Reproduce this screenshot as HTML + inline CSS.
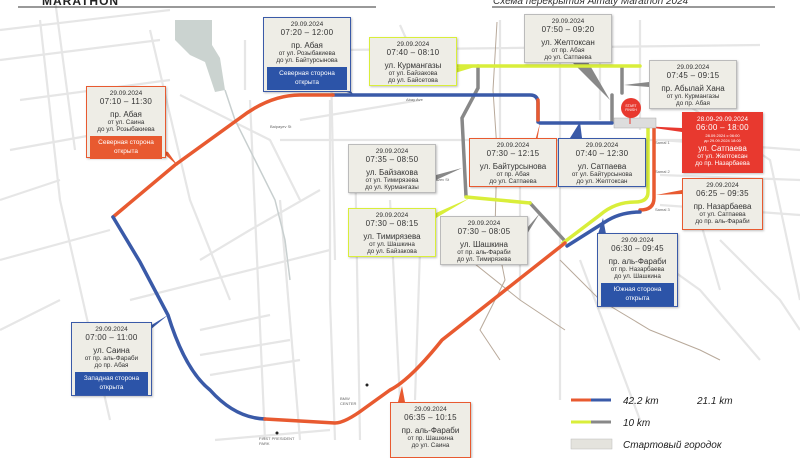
<!DOCTYPE html>
<html><head><meta charset="utf-8"><style>
body{margin:0;width:800px;height:450px;overflow:hidden;background:#fff;font-family:"Liberation Sans","DejaVu Sans",sans-serif;position:relative}
svg{position:absolute;left:0;top:0}
.b{position:absolute;background:#eeede6;border:1.5px solid #999;box-sizing:border-box;text-align:center;color:#333;line-height:1.15;padding-top:3px;box-shadow:1px 1px 2px rgba(0,0,0,.25)}
.b .d{font-size:6.5px}
.b .t{font-size:8px;letter-spacing:.3px}
.b .s{font-size:8px;margin-top:3px}
.b .u{font-size:6.3px}
.b .k{margin:3px 3px 0;color:#fff;font-size:6.5px;padding:3px 0;line-height:1.3}
.o{border-color:#e85a30}.bl{border-color:#3a5aa8}.y{border-color:#d9ee3a}.g{border-color:#bbb}
.r{background:#e8392f;border-color:#e8392f;color:#fff}
</style></head><body>
<svg width="800" height="450" viewBox="0 0 800 450">
<g stroke="#e6e6e6" stroke-width="2.2" fill="none">
<path d="M0 30 L170 10 M0 60 L160 40 M20 100 L170 80 M10 150 L120 130 M0 200 L60 180 M0 260 L110 230 M0 330 L60 300 M130 300 L330 250 M200 330 L270 315 M200 355 L290 340 M210 375 L300 360 M215 440 L330 430"/>
<path d="M40 20 L60 200 L110 420 M55 0 L75 150 M150 30 L190 200 L230 300 M245 40 L245 90 M180 95 L270 140 L300 200 M330 20 L335 260 M330 100 L330 200 L330 300 L335 440 M250 100 L265 440 M280 200 L300 440 M355 150 L360 440 M390 200 L400 400 M420 250 L415 400"/>
<path d="M320 190 L250 230 L200 260 M300 120 L420 100 M280 140 L700 140 M560 20 L560 400 M600 20 L600 120 M640 20 L640 130 M660 140 L800 150 M660 175 L800 180 M660 205 L800 215 M680 100 L770 160 L800 300 M700 220 L720 290 M720 240 L780 300 L800 330 M630 240 L700 290 L760 360 M340 50 L760 45 M400 25 L420 70 M500 20 L500 140 M520 150 L520 300 M580 260 L640 420"/>
</g>
<path d="M175 20 L212 20 L212 45 L220 58 L225 90 L215 92 L205 62 L190 55 L175 40Z" fill="#cbd3d0"/>
<path d="M225 90 L235 120 L255 160 L275 200 L285 240 L290 280" stroke="#c8cfcf" stroke-width="1.5" fill="none"/>
<g stroke="#b8a99a" stroke-width="1" fill="none"><path d="M497 22 L493 90 L497 150 L495 230 L505 280 L480 330 L500 360"/><path d="M470 260 L520 300 L565 330"/><path d="M560 260 L600 300 L650 330 L700 350 L720 360"/></g>
<line x1="18" y1="7" x2="376" y2="7" stroke="#333" stroke-width="1"/>
<line x1="492" y1="7" x2="775" y2="7" stroke="#333" stroke-width="1"/>
<text x="42" y="5" font-size="12" font-weight="bold" fill="#222" letter-spacing="1">MARATHON</text>
<text x="493" y="4" font-size="10" font-style="italic" fill="#333">Схема перекрытия Almaty Marathon 2024</text>
<g font-size="4" fill="#666"><text x="406" y="101">Abay Ave</text><text x="270" y="128">Baipayev St</text><text x="425" y="181">Timiryazev St</text><text x="655" y="144">Samal 1</text><text x="655" y="173">Samal 2</text><text x="655" y="211">Samal 3</text><text x="340" y="400">BMW</text><text x="340" y="405">CENTER</text><text x="259" y="440">FIRST PRESIDENT</text><text x="259" y="445">PARK</text></g>
<circle cx="367" cy="385" r="1.5" fill="#222"/><circle cx="277" cy="433" r="1.5" fill="#222"/>
<g fill="#e85a30"><path d="M160 150 L168 152 L178 166Z"/><path d="M523 185 L540 123 L530 186Z"/><path d="M398 402 L402 386 L405 402Z"/></g>
<g fill="#3a5aa8"><path d="M340 90 L350 90 L353 94Z"/><path d="M150 326 L168 315 L150 330Z"/><path d="M570 138 L580 122 L582 138Z"/><path d="M598 234 L603 218 L606 234Z"/></g>
<g fill="#d9ee3a"><path d="M455 68 L478 66 L455 73Z"/><path d="M436 213 L470 198 L436 218Z"/></g>
<g fill="#888"><path d="M572 62 L610 100 L588 62Z"/><path d="M649 82 L624 85 L649 87Z"/><path d="M436 175 L462 168 L436 180Z"/><path d="M527 228 L540 213 L527 234Z"/></g>
<path d="M682 128 L640 126 L682 132Z" fill="#e8392f"/><path d="M682 190 L656 195 L682 194Z" fill="#e85a30"/>
<g fill="none" stroke-linecap="round" stroke-width="3.5">
<path d="M478 66 L478 88 L462 118 L466 196" stroke="#888"/>
<path d="M622 68 L622 93" stroke="#888"/>
<path d="M612 95 L612 122" stroke="#888"/>
<path d="M530 203 L564 240" stroke="#888"/>
<path d="M443 66 L640 66" stroke="#d9ee3a"/>
<path d="M466 197 L530 203" stroke="#d9ee3a"/>
<path d="M648 128 L648 192 Q648 202 635 202 Q615 202 600 215 L563 243" stroke="#d9ee3a"/>
<path d="M654 128 L654 198 Q654 210 640 210" stroke="#e85a30"/>
<path d="M640 212 Q620 212 605 222 L567 246" stroke="#3a5aa8"/>
<path d="M333 95 L530 95 Q538 95 538 103 L538 122" stroke="#3a5aa8"/>
<path d="M538 100 L538 120" stroke="#e85a30"/>
<path d="M540 123 L612 123" stroke="#3a5aa8"/>
<path d="M333 95 L300 95 Q270 95 240 118 L175 165 L113 217" stroke="#e85a30"/>
<path d="M113 217 L140 262 L168 315 Q185 370 210 390 Q235 418 265 419" stroke="#3a5aa8"/>
<path d="M265 419 L335 423 Q345 423 365 408 L390 390 Q410 380 442 340 L565 243" stroke="#e85a30"/>
</g>
<rect x="614" y="118" width="42" height="10" fill="#ddd" stroke="#aaa" stroke-width=".5"/>
<line x1="630" y1="112" x2="630" y2="124" stroke="#e8392f" stroke-width="1"/>
<circle cx="631" cy="108" r="10" fill="#e8392f"/>
<text x="631" y="107" font-size="3.5" fill="#fff" text-anchor="middle">START</text><text x="631" y="111" font-size="3.5" fill="#fff" text-anchor="middle">FINISH</text>
<line x1="571" y1="400" x2="591" y2="400" stroke="#e85a30" stroke-width="3"/><line x1="591" y1="400" x2="611" y2="400" stroke="#3a5aa8" stroke-width="3"/>
<line x1="571" y1="422" x2="591" y2="422" stroke="#d9ee3a" stroke-width="3"/><line x1="591" y1="422" x2="611" y2="422" stroke="#888" stroke-width="3"/>
<rect x="571" y="439" width="41" height="10" fill="#e4e3dd" stroke="#bbb" stroke-width=".5"/>
<g font-size="10" font-style="italic" fill="#222"><text x="623" y="404">42.2 km</text><text x="697" y="404">21.1 km</text><text x="623" y="426">10 km</text><text x="623" y="448">Стартовый городок</text></g>
</svg>

<div class="b o" style="left:86px;top:86px;width:80px;height:72px"><div class="d">29.09.2024</div><div class="t">07:10 – 11:30</div><div class="s">пр. Абая</div><div class="u">от ул. Саина<br>до ул. Розыбакиева</div><div class="k" style="background:#e85a30">Северная сторона<br>открыта</div></div>
<div class="b bl" style="left:263px;top:17px;width:88px;height:75px"><div class="d">29.09.2024</div><div class="t">07:20 – 12:00</div><div class="s">пр. Абая</div><div class="u">от ул. Розыбакиева<br>до ул. Байтурсынова</div><div class="k" style="background:#2c54a8">Северная сторона<br>открыта</div></div>
<div class="b y" style="left:369px;top:37px;width:88px;height:49px"><div class="d">29.09.2024</div><div class="t">07:40 – 08:10</div><div class="s">ул. Курмангазы</div><div class="u">от ул. Байзакова<br>до ул. Байсетова</div></div>
<div class="b g" style="left:524px;top:14px;width:88px;height:49px"><div class="d">29.09.2024</div><div class="t">07:50 – 09:20</div><div class="s">ул. Желтоксан</div><div class="u">от пр. Абая<br>до ул. Сатпаева</div></div>
<div class="b g" style="left:649px;top:60px;width:88px;height:49px"><div class="d">29.09.2024</div><div class="t">07:45 – 09:15</div><div class="s">пр. Абылай Хана</div><div class="u">от ул. Курмангазы<br>до пр. Абая</div></div>
<div class="b r" style="left:682px;top:112px;width:81px;height:61px"><div class="d">28.09-29.09.2024</div><div class="t">06:00 – 18:00</div><div style="font-size:4px;line-height:1.3">28.09.2024 с 06:00<br>до 29.09.2024 18:00</div><div class="s" style="margin-top:1px">ул. Сатпаева</div><div class="u">от ул. Желтоксан<br>до пр. Назарбаева</div></div>
<div class="b o" style="left:682px;top:178px;width:81px;height:52px"><div class="d">29.09.2024</div><div class="t">06:25 – 09:35</div><div class="s">пр. Назарбаева</div><div class="u">от ул. Сатпаева<br>до пр. аль-Фараби</div></div>
<div class="b o" style="left:469px;top:138px;width:88px;height:49px"><div class="d">29.09.2024</div><div class="t">07:30 – 12:15</div><div class="s">ул. Байтурсынова</div><div class="u">от пр. Абая<br>до ул. Сатпаева</div></div>
<div class="b bl" style="left:558px;top:138px;width:88px;height:49px"><div class="d">29.09.2024</div><div class="t">07:40 – 12:30</div><div class="s">ул. Сатпаева</div><div class="u">от ул. Байтурсынова<br>до ул. Желтоксан</div></div>
<div class="b g" style="left:348px;top:144px;width:88px;height:49px"><div class="d">29.09.2024</div><div class="t">07:35 – 08:50</div><div class="s">ул. Байзакова</div><div class="u">от ул. Тимирязева<br>до ул. Курмангазы</div></div>
<div class="b y" style="left:348px;top:208px;width:88px;height:49px"><div class="d">29.09.2024</div><div class="t">07:30 – 08:15</div><div class="s">ул. Тимирязева</div><div class="u">от ул. Шашкина<br>до ул. Байзакова</div></div>
<div class="b g" style="left:440px;top:216px;width:88px;height:49px"><div class="d">29.09.2024</div><div class="t">07:30 – 08:05</div><div class="s">ул. Шашкина</div><div class="u">от пр. аль-Фараби<br>до ул. Тимирязева</div></div>
<div class="b bl" style="left:597px;top:233px;width:81px;height:74px"><div class="d">29.09.2024</div><div class="t">06:30 – 09:45</div><div class="s">пр. аль-Фараби</div><div class="u">от пр. Назарбаева<br>до ул. Шашкина</div><div class="k" style="background:#2c54a8">Южная сторона<br>открыта</div></div>
<div class="b bl" style="left:71px;top:322px;width:81px;height:74px"><div class="d">29.09.2024</div><div class="t">07:00 – 11:00</div><div class="s">ул. Саина</div><div class="u">от пр. аль-Фараби<br>до пр. Абая</div><div class="k" style="background:#2c54a8">Западная сторона<br>открыта</div></div>
<div class="b o" style="left:390px;top:402px;width:81px;height:56px"><div class="d">29.09.2024</div><div class="t">06:35 – 10:15</div><div class="s">пр. аль-Фараби</div><div class="u">от пр. Шашкина<br>до ул. Саина</div></div>
</body></html>
